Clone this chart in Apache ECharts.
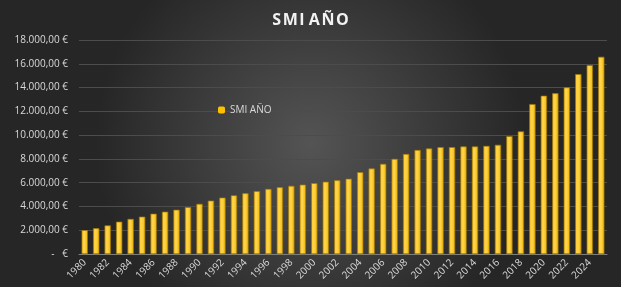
<!DOCTYPE html>
<html>
<head>
<meta charset="utf-8">
<script src="https://cdn.jsdelivr.net/npm/echarts@6/dist/echarts.min.js"></script>
<style>
  html, body { margin: 0; padding: 0; }
  #chart { width: 621px; height: 287px; }
</style>
</head>
<body>
<div id="chart"></div>
<script>
const years = [];
for (let y = 1980; y <= 2025; y++) years.push(String(y));

// SMI anual (14 pagas), euros
const smi = [
  1994, 2156, 2393, 2706, 2936, 3128, 3377, 3547, 3708, 3928,
  4208, 4481, 4735, 4925, 5096, 5276, 5462, 5606, 5725, 5828,
  5947, 6068, 6191, 6317, 6872, 7182, 7573, 7988, 8400, 8736,
  8866, 8980, 8980, 9034, 9034, 9080, 9172, 9906, 10302, 12600,
  13300, 13510, 14000, 15120, 15876, 16576
];

const fmt = v => {
  if (v === 0) return '-   €';
  return v.toFixed(2).replace('.', ',').replace(/\B(?=(\d{3})+(?!\d))/g, '.') + ' €';
};

const chart = echarts.init(document.getElementById('chart'));
chart.setOption({
  backgroundColor: {
    type: 'radial', x: 0.5, y: 0.5, r: 0.75,
    colorStops: [
      { offset: 0, color: '#545454' },
      { offset: 1, color: '#262626' }
    ]
  },
  title: {
    text: 'S\u200aM\u200aI A\u200aÑ\u200aO',
    left: 'center',
    top: 7,
    textStyle: { color: '#f2f2f2', fontSize: 16, fontWeight: 'bold', fontFamily: 'Open Sans' }
  },
  legend: {
    left: 213,
    top: 100,
    itemWidth: 7,
    itemHeight: 7,
    itemGap: 3,
    itemStyle: { borderWidth: 0, color: '#ffc000' },
    textStyle: { color: '#d9d9d9', fontSize: 10, fontFamily: 'Open Sans' },
    data: ['SMI AÑO']
  },
  grid: { left: 79, right: 14, top: 40, bottom: 33 },
  xAxis: {
    type: 'category',
    data: years,
    axisLine: { lineStyle: { color: '#7f7f7f' } },
    axisTick: { show: false },
    axisLabel: {
      color: '#d9d9d9', fontSize: 10, rotate: 45, interval: 1,
      fontFamily: 'Open Sans', margin: 7
    }
  },
  yAxis: {
    type: 'value',
    min: 0,
    max: 18000,
    interval: 2000,
    axisLine: { show: false },
    axisTick: { show: false },
    splitLine: { lineStyle: { color: '#4c4c4c', width: 1 } },
    axisLabel: {
      color: '#d9d9d9', fontSize: 10, margin: 11,
      fontFamily: 'Open Sans', formatter: fmt
    }
  },
  series: [{
    name: 'SMI AÑO',
    type: 'bar',
    data: smi,
    barWidth: 6,
    itemStyle: {
      color: {
        type: 'linear', x: 0, y: 0, x2: 1, y2: 0,
        colorStops: [
          { offset: 0, color: '#ffc72a' },
          { offset: 0.45, color: '#ffd54d' },
          { offset: 1, color: '#f0b400' }
        ]
      },
      borderColor: '#a07800',
      borderWidth: 0.4
    }
  }]
});
</script>
</body>
</html>
